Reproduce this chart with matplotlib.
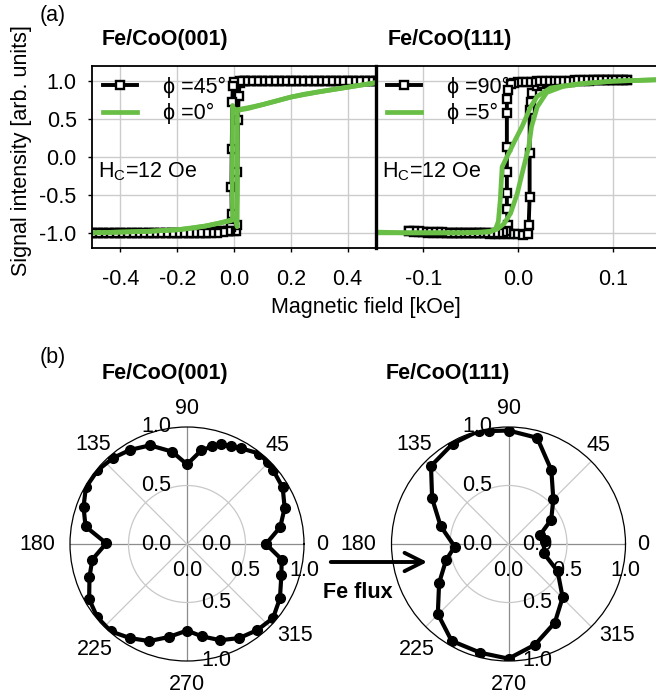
import matplotlib
matplotlib.use('Agg')
import matplotlib.pyplot as plt
from matplotlib.patches import FancyArrowPatch
from matplotlib.ticker import FormatStrFormatter
import numpy as np

plt.rcParams['font.family'] = ['Liberation Sans', 'DejaVu Sans']
plt.rcParams['mathtext.fontset'] = 'custom'
plt.rcParams['mathtext.rm'] = 'Liberation Sans'
plt.rcParams['axes.unicode_minus'] = False
plt.rcParams['font.size'] = 15.5

W, H = 656, 698
GREEN = '#69be46'
GRID = '#cccccc'

# ---- (a) hysteresis loops, Fe/CoO(001) ----
h45_up = [-0.50, -0.48, -0.46, -0.44, -0.42, -0.40, -0.38, -0.36, -0.34, -0.32,
          -0.30, -0.28, -0.26, -0.24, -0.22, -0.20, -0.18, -0.16, -0.14, -0.12,
          -0.10, -0.08, -0.06, -0.04, -0.02, 0.000, 0.006, 0.010, 0.012, 0.014,
          0.016, 0.020, 0.030, 0.040, 0.06, 0.08, 0.10, 0.12, 0.14, 0.16, 0.18,
          0.20, 0.22, 0.24, 0.26, 0.28, 0.30, 0.32, 0.34, 0.36, 0.38, 0.40,
          0.42, 0.44, 0.46, 0.48, 0.50]
m45_up = [-1.00, -1.00, -1.00, -1.00, -1.00, -1.00, -1.00, -1.00, -1.00, -1.00,
          -1.00, -1.00, -1.00, -1.00, -1.00, -1.00, -1.00, -1.00, -1.00, -1.00,
          -1.00, -0.99, -0.98, -0.97, -0.98, -0.98, -0.97, -0.90, -0.20, 0.49,
          0.80, 0.97, 1.00, 1.00, 1.00, 1.00, 1.00, 1.00, 1.00, 1.00, 1.00,
          1.00, 1.00, 1.00, 1.00, 1.00, 1.00, 1.00, 1.00, 1.00, 1.00, 1.00,
          1.00, 1.00, 1.00, 1.00, 1.00]
h45_dn = [0.50, 0.48, 0.46, 0.44, 0.42, 0.40, 0.38, 0.36, 0.34, 0.32,
          0.30, 0.28, 0.26, 0.24, 0.22, 0.20, 0.18, 0.16, 0.14, 0.12,
          0.10, 0.08, 0.06, 0.04, 0.02, 0.000, -0.004, -0.006, -0.008, -0.009,
          -0.008, -0.010, -0.014, -0.02, -0.04, -0.06, -0.08, -0.10, -0.12, -0.14,
          -0.16, -0.18, -0.20, -0.22, -0.24, -0.26, -0.28, -0.30, -0.32, -0.34,
          -0.36, -0.38, -0.40, -0.42, -0.44, -0.46, -0.48, -0.50]
m45_dn = [1.00, 1.00, 1.00, 1.00, 1.00, 1.00, 1.00, 1.00, 1.00, 1.00,
          1.00, 1.00, 1.00, 1.00, 1.00, 1.00, 1.00, 1.00, 1.00, 1.00,
          1.00, 1.00, 1.00, 1.00, 1.00, 0.99, 0.94, 0.72, 0.10, -0.40,
          -0.75, -0.92, -0.97, -0.98, -0.99, -1.00, -1.00, -1.00, -1.00, -1.00,
          -1.00, -1.00, -1.00, -1.00, -1.00, -1.00, -1.00, -1.00, -1.00, -1.00,
          -1.00, -1.00, -1.00, -1.00, -1.00, -1.00, -1.00, -1.00]

h0_up = [-0.50, -0.40, -0.30, -0.20, -0.15, -0.10, -0.05, -0.02, 0.000, 0.008,
         0.011, 0.012, 0.012, 0.020, 0.05, 0.10, 0.15, 0.20, 0.25, 0.30,
         0.35, 0.40, 0.45, 0.50]
m0_up = [-1.00, -0.99, -0.98, -0.96, -0.94, -0.91, -0.87, -0.84, -0.82, -0.86,
         -0.92, -0.50, 0.60, 0.62, 0.64, 0.69, 0.74, 0.79, 0.83, 0.86,
         0.89, 0.92, 0.95, 0.98]
h0_dn = [0.50, 0.40, 0.30, 0.20, 0.10, 0.05, 0.02, 0.000, -0.005, -0.006,
         -0.005, -0.010, -0.05, -0.10, -0.20, -0.30, -0.40, -0.50]
m0_dn = [0.98, 0.92, 0.86, 0.79, 0.69, 0.65, 0.63, 0.62, 0.68, -0.50,
         -0.82, -0.84, -0.87, -0.91, -0.96, -0.98, -0.99, -1.00]

# ---- (a) hysteresis loops, Fe/CoO(111) ----
h90_up = [-0.115, -0.110, -0.105, -0.100, -0.095, -0.090, -0.085, -0.080, -0.075,
          -0.070, -0.065, -0.060, -0.055, -0.050, -0.045, -0.040, -0.035, -0.030,
          -0.025, -0.020, -0.015, -0.010, -0.005, 0.000, 0.005, 0.010, 0.011,
          0.012, 0.012, 0.012, 0.013, 0.015, 0.020, 0.025, 0.030, 0.035, 0.040,
          0.045, 0.050, 0.055, 0.060, 0.065, 0.070, 0.075, 0.080, 0.085, 0.090,
          0.095, 0.100, 0.105, 0.110, 0.115]
m90_up = [-0.98, -0.99, -0.99, -0.99, -1.00, -1.00, -1.00, -1.00, -1.00,
          -1.00, -1.00, -1.00, -1.00, -1.00, -1.00, -1.00, -1.00, -1.01,
          -1.01, -1.01, -1.01, -1.02, -1.02, -1.02, -1.03, -1.02, -0.90,
          -0.53, 0.05, 0.62, 0.73, 0.85, 0.93, 0.96, 0.97, 0.98, 0.98,
          0.99, 0.99, 0.99, 1.00, 1.00, 1.00, 1.00, 1.01, 1.01, 1.01,
          1.01, 1.02, 1.02, 1.02, 1.02]
h90_dn = [0.115, 0.110, 0.105, 0.100, 0.095, 0.090, 0.085, 0.080, 0.075, 0.070,
          0.065, 0.060, 0.055, 0.050, 0.045, 0.040, 0.035, 0.030, 0.025, 0.020,
          0.015, 0.010, 0.005, 0.000, -0.004, -0.008, -0.011, -0.012, -0.012,
          -0.012, -0.012, -0.012, -0.012, -0.011, -0.013, -0.016, -0.020, -0.025,
          -0.030, -0.035, -0.040, -0.045, -0.050, -0.055, -0.060, -0.065, -0.070,
          -0.075, -0.080, -0.085, -0.090, -0.095, -0.100, -0.105, -0.110, -0.115]
m90_dn = [1.02, 1.02, 1.02, 1.02, 1.02, 1.01, 1.01, 1.01, 1.01, 1.01,
          1.01, 1.01, 1.00, 1.00, 1.00, 1.00, 1.00, 1.00, 1.00, 1.00,
          0.99, 0.99, 0.99, 0.99, 0.98, 0.96, 0.89, 0.76, 0.58,
          0.13, -0.20, -0.48, -0.68, -0.90, -0.97, -0.99, -1.00, -1.00,
          -1.00, -1.00, -1.00, -1.00, -1.00, -1.00, -1.00, -1.00, -1.00,
          -1.00, -0.99, -0.99, -0.99, -0.99, -0.99, -0.98, -0.98, -0.98]

h5_up = [-0.150, -0.120, -0.090, -0.060, -0.040, -0.030, -0.022, -0.015, -0.008,
         -0.001, 0.005, 0.011, 0.014, 0.020, 0.030, 0.047, 0.070, 0.100, 0.125, 0.150]
m5_up = [-0.99, -1.00, -1.00, -1.00, -0.99, -0.98, -0.95, -0.88, -0.74,
         -0.48, -0.17, 0.13, 0.40, 0.66, 0.85, 0.93, 0.97, 1.00, 1.01, 1.02]
h5_dn = [0.150, 0.100, 0.060, 0.034, 0.020, 0.013, 0.004, -0.003, -0.012,
         -0.017, -0.019, -0.021, -0.024, -0.030, -0.050, -0.080, -0.110, -0.150]
m5_dn = [1.02, 1.00, 0.96, 0.91, 0.80, 0.66, 0.40, 0.23, 0.00,
         -0.13, -0.57, -0.85, -0.95, -0.99, -1.00, -1.00, -1.00, -1.00]

# ---- (b) polar remanence ----
ang001 = [0, 10.3, 20.3, 30.6, 40.7, 45.4, 51.3, 60.3, 66.0, 70.9, 75.7, 81.3,
          90, 99.2, 110.5, 121.1, 130.8, 140.6, 150.8, 160.2, 170.2, 179.5,
          189.3, 198.7, 209.4, 219.3, 229.0, 238.9, 248.8, 258.9, 270,
          279.2, 289.1, 299.1, 309.3, 319.3, 329.7, 341.6, 350.7]
rem001 = [0.675, 0.81, 0.89, 0.95, 0.97, 0.98, 0.99, 0.94, 0.92, 0.90, 0.86, 0.81,
          0.68, 0.80, 0.90, 0.94, 0.97, 0.99, 0.99, 0.94, 0.88, 0.69,
          0.82, 0.88, 0.96, 0.99, 0.99, 0.94, 0.89, 0.81, 0.74,
          0.80, 0.87, 0.92, 0.95, 0.97, 0.92, 0.85, 0.82]
ang111 = [5.2, 15.9, 29.7, 44.8, 59.9, 74.9, 90, 100.0, 104.7, 119.2, 134.8,
          149.2, 165.2, 182.8, 194.3, 209.3, 224.7, 239.6, 255.5, 270,
          284.7, 300.5, 315.4, 331.0, 345.5]
rem111 = [0.31, 0.28, 0.42, 0.54, 0.73, 0.94, 0.97, 0.98, 1.00, 0.98, 0.94,
          0.76, 0.60, 0.46, 0.55, 0.68, 0.85, 0.96, 0.96, 0.98,
          0.89, 0.78, 0.65, 0.48, 0.31]


def px_box(x0, y0, x1, y1):
    return [x0 / W, 1 - y1 / H, (x1 - x0) / W, (y1 - y0) / H]


def fig_text(x, y, s, **kw):
    fig.text(x / W, 1 - y / H, s, ha='center', va='center', **kw)


def loop(ax, h_up, m_up, h_dn, m_dn, h_up2, m_up2, h_dn2, m_dn2, lab1, lab2):
    blk = dict(color='k', lw=2.8, marker='s', ms=5.5, mfc='white', mec='k', mew=1.7)
    l1, = ax.plot(h_up, m_up, **blk)
    ax.plot(h_dn, m_dn, **blk)
    l2, = ax.plot(h_up2, m_up2, color=GREEN, lw=3.4)
    ax.plot(h_dn2, m_dn2, color=GREEN, lw=3.4)
    ax.set_ylim(-1.2, 1.2)
    ax.set_yticks([-1.0, -0.5, 0.0, 0.5, 1.0])
    ax.yaxis.set_major_formatter(FormatStrFormatter('%.1f'))
    ax.xaxis.set_major_formatter(FormatStrFormatter('%.1f'))
    ax.grid(True, color=GRID, lw=1.0)
    ax.set_axisbelow(True)
    ax.tick_params(direction='out', length=3, width=1, labelsize=15.5)
    ax.tick_params(axis='x', pad=12)
    ax.tick_params(axis='y', pad=8)
    for sp in ax.spines.values():
        sp.set_linewidth(1.3)
    ax.legend([l1, l2], [lab1, lab2], loc='upper left', frameon=False,
              handlelength=1.6, handletextpad=1.2, labelspacing=0.25,
              borderaxespad=0.2, borderpad=0.3, numpoints=1, fontsize=15.5)
    ax.text(0.02, 0.42, r'H$_\mathrm{C}$=12 Oe', transform=ax.transAxes,
            ha='left', va='center', fontsize=15.5)


fig = plt.figure(figsize=(W / 100, H / 100), dpi=100)

ax1 = fig.add_axes(px_box(92, 66, 376, 248))
loop(ax1, h45_up, m45_up, h45_dn, m45_dn, h0_up, m0_up, h0_dn, m0_dn,
     'ϕ =45°', 'ϕ =0°')
ax1.set_xlim(-0.5, 0.5)
ax1.set_xticks([-0.4, -0.2, 0.0, 0.2, 0.4])

ax2 = fig.add_axes(px_box(376, 66, 660.5, 248))
loop(ax2, h90_up, m90_up, h90_dn, m90_dn, h5_up, m5_up, h5_dn, m5_dn,
     'ϕ =90°', 'ϕ =5°')
ax2.set_xlim(-0.15, 0.15)
ax2.set_xticks([-0.1, 0.0, 0.1])
ax2.tick_params(axis='y', labelleft=False, length=0)
ax2.spines['left'].set_linewidth(2.4)
ax2.spines['right'].set_visible(False)

fig_text(53, 16, '(a)')
fig_text(165, 40, 'Fe/CoO(001)', fontweight='bold')
fig_text(450, 40, 'Fe/CoO(111)', fontweight='bold')
fig_text(366, 308, 'Magnetic field [kOe]')
fig_text(22, 151, 'Signal intensity [arb. units]', rotation=90)

# ---- polar panels ----
theta_lab = [(0, 1.154, '0'), (47.7, 1.144, '45'), (90, 1.162, '90'),
             (133.5, 1.167, '135'), (180, 1.282, '180'), (228.8, 1.193, '225'),
             (270, 1.205, '270'), (319.6, 1.213, '315')]


def polar(ax, ang, rem):
    th = np.deg2rad(np.append(ang, ang[0]))
    rr = np.append(rem, rem[0])
    ax.plot(th, rr, color='k', lw=3.0, marker='o', ms=7, zorder=5)
    ax.set_ylim(0, 1)
    ax.set_rgrids([0.5], labels=[''])
    ax.set_thetagrids(range(0, 360, 45), labels=[''] * 8)
    ax.grid(True, color='#c8c8c8', lw=0.9)
    for i, gl in enumerate(ax.xaxis.get_gridlines()):
        if i % 2 == 0:
            gl.set_color('#8c8c8c')
    ax.spines['polar'].set_linewidth(0.9)
    ax.tick_params(length=0)
    for d, r, s in theta_lab:
        ax.text(np.deg2rad(d), r, s, ha='center', va='center', fontsize=15.5)
    for r, s in zip([0.0, 0.5, 1.0], ['0.0', '0.5', '1.0']):
        ax.annotate(s, xy=(np.pi / 2, r), xytext=(-16, 0), textcoords='offset pixels',
                    ha='right', va='center', annotation_clip=False, fontsize=15.5)
        ax.annotate(s, xy=(3 * np.pi / 2, r), xytext=(14, 0), textcoords='offset pixels',
                    ha='left', va='center', annotation_clip=False, fontsize=15.5)
        ax.annotate(s, xy=(0, r), xytext=(0, -26), textcoords='offset pixels',
                    ha='center', va='center', annotation_clip=False, fontsize=15.5)


R = 117
ax3 = fig.add_axes(px_box(187 - R, 544 - R, 187 + R, 544 + R), projection='polar')
polar(ax3, ang001, rem001)
ax4 = fig.add_axes(px_box(508.5 - R, 544 - R, 508.5 + R, 544 + R), projection='polar')
polar(ax4, ang111, rem111)

fig_text(53, 357, '(b)')
fig_text(165, 373, 'Fe/CoO(001)', fontweight='bold')
fig_text(448, 373, 'Fe/CoO(111)', fontweight='bold')

arrow = FancyArrowPatch((328 / W, 1 - 562 / H), (430 / W, 1 - 562 / H),
                        transform=fig.transFigure,
                        arrowstyle='->,head_length=0.6,head_width=0.3',
                        mutation_scale=22, lw=2.8, color='k')
fig.add_artist(arrow)
fig_text(358, 593, 'Fe flux', fontweight='bold')

fig.savefig('out.png', dpi=100)
